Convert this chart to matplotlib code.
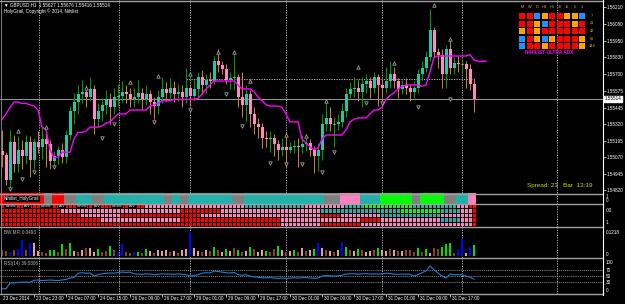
import numpy as np
import matplotlib.pyplot as plt
import matplotlib.transforms as mtransforms
from matplotlib.lines import Line2D
from matplotlib.patches import Rectangle

plt.rcParams['font.family'] = ['Liberation Sans', 'DejaVu Sans']

# ---------------- data ----------------
opens = [1.5512,1.5509,1.5490,1.5519,1.5502,1.5513,1.5508,1.5519,1.5505,1.5519,
         1.5515,1.5521,1.5517,1.5504,1.5508,1.5513,1.5507,1.5524,1.5542,1.5549,
         1.5555,1.5557,1.5553,1.5559,1.5536,1.5542,1.5547,1.5551,1.5545,1.5553,
         1.5554,1.5557,1.5555,1.5551,1.5553,1.5556,1.5551,1.5555,1.5549,1.5546,
         1.5553,1.5559,1.5556,1.5560,1.5555,1.5557,1.5553,1.5560,1.5554,1.5559,
         1.5568,1.5562,1.5566,1.5565,1.5580,1.5577,1.5574,1.5566,1.5567,1.5568,
         1.5553,1.5547,1.5555,1.5540,1.5532,1.5530,1.5522,1.5521,1.5522,1.5517,
         1.5513,1.5515,1.5513,1.5515,1.5516,1.5515,1.5517,1.5518,1.5513,1.5508,
         1.5513,1.5532,1.5537,1.5532,1.5532,1.5534,1.5542,1.5555,1.5559,1.5560,
         1.5557,1.5563,1.5565,1.5560,1.5568,1.5562,1.5560,1.5565,1.5570,1.5565,
         1.5559,1.5562,1.5560,1.5557,1.5560,1.5570,1.5575,1.5583,1.5604,1.5587,
         1.5585,1.5570,1.5589,1.5575,1.5579,1.5578,1.5578,1.5574,1.55627]
highs = [1.5528,1.5511,1.5528,1.5524,1.5523,1.5520,1.5524,1.5523,1.5522,1.5527,
         1.5530,1.5526,1.5520,1.5512,1.5516,1.5518,1.5528,1.5546,1.5556,1.5562,
         1.5566,1.5562,1.5568,1.5562,1.5548,1.5552,1.5558,1.5556,1.5560,1.5563,
         1.5565,1.5562,1.5560,1.5560,1.5566,1.5560,1.5562,1.5558,1.5553,1.5558,
         1.5568,1.5564,1.5567,1.5565,1.5563,1.5562,1.5575,1.5563,1.5566,1.5572,
         1.5573,1.5570,1.5572,1.5584,1.5589,1.5580,1.5578,1.5572,1.5586,1.5570,
         1.5572,1.5562,1.5558,1.5545,1.5537,1.5533,1.5527,1.5527,1.5525,1.5520,
         1.5522,1.5526,1.5519,1.5520,1.5522,1.5524,1.5525,1.5521,1.5516,1.5518,
         1.5540,1.5550,1.5545,1.5538,1.5540,1.5548,1.5560,1.5564,1.5568,1.5566,
         1.5568,1.5570,1.5568,1.5572,1.5570,1.5566,1.5576,1.5580,1.5576,1.5567,
         1.5566,1.5567,1.5563,1.5565,1.5574,1.5580,1.5588,1.5620,1.5606,1.5590,
         1.5589,1.5592,1.5596,1.5583,1.5584,1.5582,1.5580,1.5578,1.55676]
lows = [1.5500,1.5486,1.5483,1.5496,1.5496,1.5498,1.5502,1.5492,1.5498,1.5510,
        1.5506,1.5500,1.5498,1.5500,1.5502,1.5503,1.5503,1.5520,1.5532,1.5540,
        1.5548,1.5545,1.5550,1.5525,1.5530,1.5535,1.5540,1.5532,1.5540,1.5546,
        1.5549,1.5548,1.5545,1.5545,1.5548,1.5544,1.5547,1.5540,1.5536,1.5540,
        1.5548,1.5550,1.5550,1.5549,1.5550,1.5545,1.5548,1.5546,1.5550,1.5552,
        1.5555,1.5556,1.5560,1.5563,1.5572,1.5570,1.5563,1.5559,1.5558,1.5545,
        1.5538,1.5535,1.5530,1.5525,1.5522,1.5514,1.5515,1.5511,1.5508,1.5505,
        1.5508,1.5500,1.5510,1.5510,1.5500,1.5510,1.5512,1.5508,1.5495,1.5497,
        1.5505,1.5527,1.5527,1.5515,1.5528,1.5530,1.5538,1.5552,1.5553,1.5550,
        1.5545,1.5556,1.5552,1.5556,1.5546,1.5552,1.5556,1.5560,1.5560,1.5552,
        1.5555,1.5555,1.5550,1.5552,1.5556,1.5566,1.5572,1.5580,1.5583,1.5575,
        1.5560,1.5560,1.5570,1.5570,1.5572,1.5572,1.5560,1.5558,1.55416]
closes = [1.5509,1.5490,1.5519,1.5502,1.5513,1.5508,1.5519,1.5505,1.5519,1.5515,
          1.5521,1.5517,1.5504,1.5508,1.5513,1.5507,1.5524,1.5542,1.5549,1.5555,
          1.5557,1.5553,1.5559,1.5536,1.5542,1.5547,1.5551,1.5545,1.5553,1.5554,
          1.5557,1.5555,1.5551,1.5553,1.5556,1.5551,1.5555,1.5549,1.5546,1.5553,
          1.5559,1.5556,1.5560,1.5555,1.5557,1.5553,1.5560,1.5554,1.5559,1.5568,
          1.5562,1.5566,1.5565,1.5580,1.5577,1.5574,1.5566,1.5567,1.5568,1.5553,
          1.5547,1.5555,1.5540,1.5532,1.5530,1.5522,1.5521,1.5522,1.5517,1.5513,
          1.5515,1.5513,1.5515,1.5516,1.5515,1.5517,1.5518,1.5513,1.5508,1.5513,
          1.5532,1.5537,1.5532,1.5532,1.5534,1.5542,1.5555,1.5559,1.5560,1.5557,
          1.5563,1.5565,1.5560,1.5568,1.5562,1.5560,1.5565,1.5570,1.5565,1.5559,
          1.5562,1.5560,1.5557,1.5560,1.5570,1.5575,1.5583,1.5604,1.5587,1.5585,
          1.5570,1.5589,1.5575,1.5579,1.5578,1.5578,1.5574,1.5563,1.55514]

# magenta stepping line (runs 3 bars past the last candle)
ma_line = [1.5536,1.5540,1.5545,1.5549,1.5549,1.5548,1.5548,1.5547,1.5546,1.5543,
           1.5530,1.5528,1.5513,1.5507,1.5507,1.5511,1.5511,1.5511,1.5521,1.5526,
           1.5526,1.5527,1.5530,1.5530,1.5530,1.5531,1.5533,1.5534,1.5537,1.5540,
           1.5540,1.5540,1.5543,1.5543,1.5543,1.5543,1.5543,1.5546,1.5547,1.5548,
           1.5550,1.5550,1.5550,1.5551,1.5551,1.5551,1.5551,1.5551,1.5551,1.5552,
           1.5555,1.5559,1.5562,1.5565,1.5565,1.5565,1.5565,1.5565,1.5565,1.5562,
           1.5559,1.5559,1.5559,1.5557,1.5553,1.5550,1.5547,1.5546,1.5546,1.5546,
           1.5545,1.5540,1.5534,1.5534,1.5534,1.5521,1.5518,1.5515,1.5513,1.5514,
           1.5521,1.5524,1.5524,1.5524,1.5524,1.5524,1.5528,1.5534,1.5536,1.5537,
           1.5537,1.5537,1.5540,1.5543,1.5543,1.5545,1.5551,1.5554,1.5556,1.5559,
           1.5561,1.5562,1.5562,1.5562,1.5562,1.5561,1.5562,1.5572,1.5583,1.5584,
           1.5584,1.5584,1.5584,1.5584,1.5584,1.5584,1.5584,1.5585,1.5581,1.5580,
           1.5580,1.5580]

up_bars = [4, 11, 21, 32, 39, 47, 54, 58, 62, 71, 76, 81, 89, 98, 108, 112]
up_price = [1.5527, 1.5530, 1.5560, 1.5564, 1.5569, 1.5570, 1.5587, 1.5587, 1.5565,
            1.5524, 1.5523, 1.5550, 1.5576, 1.5579, 1.5623, 1.5597]
dn_bars = [2, 5, 8, 13, 25, 28, 38, 47, 56, 60, 67, 71, 75, 80, 83, 91, 95, 104, 112]
dn_price = [1.5483, 1.5491, 1.5496, 1.5500, 1.5522, 1.5532, 1.5534, 1.5543, 1.5555, 1.5531,
            1.5503, 1.5502, 1.5502, 1.5496, 1.5511, 1.5548, 1.5548, 1.5545, 1.5551]

hline_price = 1.55665
hline_from, hline_to = 46, 117.5
bid = 1.55514

price_ticks = ['1.56210', '1.56080', '1.55950', '1.55830', '1.55700', '1.55575',
               '1.55445', '1.55320', '1.55195', '1.55070', '1.54945', '1.54820']

# period separators (bar positions)
separators = [9.25, 29.25, 47, 71, 95, 115, 138.75]

time_ticks = [8, 16, 24, 32, 40, 48, 56, 64, 72, 80, 88, 96, 104, 112]
time_labels = ['23 Dec 23:00', '24 Dec 07:00', '24 Dec 15:00', '26 Dec 09:00', '26 Dec 17:00',
               '29 Dec 01:00', '29 Dec 09:00', '29 Dec 17:00', '30 Dec 01:00', '30 Dec 09:00',
               '30 Dec 17:00', '31 Dec 01:00', '31 Dec 09:00', '31 Dec 17:00']

# Nihilist_HolyGrail colour per bar: r red, k gray, t teal, g lime, p pink
hg_codes = ("rrrrrrrrrrr" "kk" "rrr" "kkk" "tttt" "kkk" "ttttttttttttttt" "kk" "tt" "kk"
            "ttttttttttt" "kkk" "tttttttttttttttttttt" "kkkk" "ppppp" "ttttt" "ggggg"
            "ggg" "kk" "gggggg" "kkk" "ttt" "pp")

# matrix panel, 5 rows
grid_rows = [
    "r" * 36 + "p" * 25 + "t" * 15 + "p" * 10 + "t" * 5 + "g" * 12 + "t" * 11 + "p" * 3 + "r" * 2,
    "r" * 15 + "p" * 30 + "r" * 10 + "p" * 25 + "t" * 20 + "g" * 10 + "t" * 5 + "p" * 3 + "r",
    "r" * 20 + "p" * 10 + "r" * 20 + "p" * 30 + "r" * 5 + "p" * 10 + "t" * 15 + "p" * 8 + "r",
    "r" * 25 + "p" * 20 + "r" * 25 + "p" * 20 + "r" * 5 + "p" * 15 + "t" * 5 + "p" * 3 + "r",
    "r" * 70 + "p" * 10 + "r" * 10 + "p" * 28 + "r",
]

mfi_vals = [0.030,0.025,0.020,0.030,0.036,0.081,0.030,0.066,0.066,0.025,
            0.020,0.015,0.030,0.030,0.020,0.061,0.036,0.066,0.025,0.020,
            0.030,0.041,0.041,0.020,0.036,0.020,0.025,0.051,0.030,0.020,
            0.061,0.020,0.015,0.020,0.020,0.015,0.036,0.025,0.015,0.030,
            0.025,0.030,0.020,0.025,0.015,0.030,0.036,0.1218,0.041,0.025,
            0.020,0.030,0.025,0.046,0.030,0.020,0.036,0.025,0.041,0.030,
            0.020,0.025,0.046,0.036,0.020,0.030,0.025,0.020,0.036,0.051,
            0.030,0.020,0.025,0.030,0.020,0.041,0.025,0.030,0.036,0.066,
            0.041,0.030,0.025,0.020,0.030,0.071,0.046,0.030,0.025,0.036,
            0.030,0.020,0.025,0.030,0.041,0.030,0.025,0.036,0.030,0.025,
            0.025,0.030,0.030,0.020,0.039,0.020,0.034,0.015,0.041,0.036,
            0.046,0.059,0.066,0.015,0.036,0.085,0.015,0.046,0.054]
mfi_codes = ("rrbrbbrbpp" "rrggrgrgpr" "prppgrrgrb" "brrbgrgprp" "pprprppbpp"
             "rprgrpgprg" "rpgrppgrrg" "prpgrprpgb" "prprpbgrpg" "rpprgpprpr"
             "prrrgrgprr" "gggrbbpbg")

rsi_vals = [5, 5, 25, 26, 28, 28, 29, 28, 35, 36,
            34, 35, 36, 35, 34, 36, 38, 43, 45, 60,
            62, 60, 61, 50, 55, 58, 60, 61, 60, 63,
            64, 63, 64, 58, 57, 56, 58, 57, 55, 56,
            58, 57, 57, 56, 58, 56, 55, 50, 52, 55,
            60, 62, 61, 68, 66, 64, 62, 61, 63, 55,
            53, 55, 50, 47, 46, 44, 44, 45, 43, 42,
            43, 42, 43, 44, 43, 44, 45, 43, 42, 43,
            50, 52, 51, 50, 51, 53, 57, 58, 58, 57,
            58, 59, 57, 58, 57, 58, 60, 59, 57, 56,
            57, 57, 56, 50, 55, 62, 68, 86, 72, 61,
            50, 43, 57, 55, 55, 54, 50, 46, 39]

adx_tf = ['M', 'W', 'D', 'H4', 'H1', '30', '15', '5', '1']
adx_periods = ['7', '21', '42', '89', '144']
adx_codes = ["rrborroob",
             "rrobrrror",
             "ororrrrrr",
             "broborrro",
             "brrorrrro"]

# ---------------- drawing ----------------
W, H = 625, 304
XR = 603
colors = {'r': '#ff0000', 'k': '#808080', 't': '#20b2aa', 'g': '#00ff00',
          'p': '#ff80c0', 'b': '#1e90ff', 'o': '#ffa500'}
mfi_colors = {'g': '#00e000', 'b': '#0000ff', 'r': '#8b4513', 'p': '#e0a0a8'}

fig = plt.figure(figsize=(6.25, 3.04), dpi=100, facecolor='black')


def rect(y0, y1):
    return [0, 1 - y1 / H, XR / W, (y1 - y0) / H]


def fpos(x, y):
    return x / W, 1 - y / H


def ftext(x, y, s, **kw):
    kw.setdefault('color', 'white')
    kw.setdefault('fontsize', 3.3)
    kw.setdefault('va', 'center')
    fig.text(*fpos(x, y), s, **kw)


xlim = (-0.5, 150.25)
ax = fig.add_axes(rect(0, 193))
ax_hg = fig.add_axes(rect(193, 204))
ax_gr = fig.add_axes(rect(204, 227))
ax_mfi = fig.add_axes(rect(227, 258))
ax_rsi = fig.add_axes(rect(258, 294))
for a in (ax, ax_hg, ax_gr, ax_mfi, ax_rsi):
    a.set_facecolor('black')
    a.set_xlim(*xlim)
    a.set_xticks([])
    a.set_yticks([])
    for s in a.spines.values():
        s.set_visible(False)
    for sx in separators:
        a.axvline(sx, color='#c8c8c8', lw=0.6, ls=(0, (1.5, 1.5)), zorder=1)

# main price panel
ax.set_ylim(1.54800, 1.56265)
idx = np.arange(len(closes))
o, h, l, c = (np.array(v) for v in (opens, highs, lows, closes))
bull = c >= o
ax.vlines(idx[bull], l[bull], h[bull], color='#00a000', lw=0.7, zorder=3)
ax.vlines(idx[~bull], l[~bull], h[~bull], color='#cd853f', lw=0.7, zorder=3)
ax.bar(idx[bull], (c - o)[bull], bottom=o[bull], width=0.75, color='#20c8a8', lw=0, zorder=4)
ax.bar(idx[~bull], (c - o)[~bull], bottom=o[~bull], width=0.75, color='#ff88c8', lw=0, zorder=4)
doji = np.abs(c - o) < 0.00003
ax.hlines(c[doji], idx[doji] - 0.35, idx[doji] + 0.35, color='#ffa040', lw=0.8, zorder=4)

ax.plot(np.arange(len(ma_line)), ma_line, color='#ff00ff', lw=1.0, zorder=5)
ax.scatter(up_bars, up_price, marker='^', s=6, facecolor='black', edgecolor='#a0a0a0', lw=0.6, zorder=6)
ax.scatter(dn_bars, dn_price, marker='v', s=6, facecolor='black', edgecolor='#a0a0a0', lw=0.6, zorder=6)
ax.hlines(hline_price, hline_from, hline_to, color='#d0d0d0', lw=0.6, ls=(0, (1.5, 1.5)), zorder=2)
ax.axhline(bid, color='#909090', lw=0.8, zorder=2)

ax.yaxis.tick_right()
ax.set_yticks([float(t) for t in price_ticks])
ax.set_yticklabels(price_ticks)
ax.tick_params(axis='y', length=2, width=0.5, color='white', labelcolor='white', labelsize=3.3, pad=1)
trans = mtransforms.blended_transform_factory(ax.transAxes, ax.transData)
ax.text(1.003, bid, '1.55514', transform=trans, fontsize=3.3, color='black', va='center',
        bbox=dict(facecolor='white', edgecolor='white', pad=0.6), zorder=10)

# HolyGrail panel
ax_hg.set_ylim(0, 1)
ax_hg.bar(idx, 0.92, bottom=0.04, width=0.78, color=[colors[k] for k in hg_codes], lw=0, zorder=2)
ax_hg.text(0.006, 0.5, 'Nihilist_HolyGrail', transform=ax_hg.transAxes, fontsize=3.3, color='white',
           va='center', bbox=dict(facecolor='black', edgecolor='red', lw=0.6, pad=0.8), zorder=5)

# matrix panel
ax_gr.set_ylim(-0.05, 5.05)
for r, row in enumerate(grid_rows):
    ax_gr.bar(idx, 0.8, bottom=4 - r + 0.1, width=0.75, color=[colors[k] for k in row], lw=0, zorder=2)
for k, lab in enumerate(['NihVol', 'ATV', 'NihVol', 'ATV', 'NihVol', 'ATV', 'NihVol', 'ATV']):
    ax_gr.text(1 + k * 4.4, 4.5, lab, fontsize=2.6, color='white', va='center',
               bbox=dict(facecolor='black', edgecolor='none', pad=0.4), zorder=5)

# BW MFI panel
ax_mfi.set_ylim(-0.0102, 0.1472)
ax_mfi.bar(idx, mfi_vals, width=0.5, color=[mfi_colors[k] for k in mfi_codes], lw=0, zorder=2)

# RSI panel
ax_rsi.set_ylim(-13.5, 114)
for lv in (70, 50, 30):
    ax_rsi.axhline(lv, color='#c0c0c0', lw=0.5, ls=(0, (1.5, 1.5)), zorder=1)
ax_rsi.plot(idx, rsi_vals, color='#1e7fd0', lw=0.8, zorder=3)

# time axis
tr = mtransforms.blended_transform_factory(ax_rsi.transData, ax_rsi.transAxes)
ax_rsi.vlines(time_ticks, -3 / 36, 0, transform=tr, color='white', lw=0.5, clip_on=False)
for t, lab in zip(time_ticks, time_labels):
    ax_rsi.text(t + 0.5, -5 / 36, lab, transform=tr, fontsize=3.3, color='white', va='center')
ftext(3, 299, '23 Dec 2014')

# frame lines
for yy in (0.5, 193.5, 204.3, 227.3, 258.3, 294.3):
    fig.add_artist(Line2D([0, XR / W], [1 - yy / H] * 2, color='#a0a0a0', lw=1.0))
fig.add_artist(Line2D([XR / W] * 2, [1 - 294.5 / H, 1], color='white', lw=0.8))
fig.add_artist(Line2D([1 / W] * 2, [1 - 294 / H, 1], color='#909090', lw=0.6))

# texts
ftext(4, 5, '\u25bc GBPUSD,H1  1.55627 1.55676 1.55416 1.55514')
ftext(4, 11, 'HolyGrail, Copyright \u00a9 2014, Nihilist')
ftext(527, 186, 'Spread: 23   Bar  13:19', color='#d8d800', fontsize=4.6)
ftext(4, 232, 'BW MFI 0.0493', color='#c0c0c0')
ftext(4, 263, 'RSI(14) 39.0306', color='#c0c0c0')

# sub-window scale labels
for yy, s in [(197, '1'), (201, '0'), (210, '.00'), (223, '1'), (232, '0.1218'), (254, '0'),
              (262, '100'), (271, '70'), (276, '50'), (282, '30'), (290, '0')]:
    ftext(606, yy, s)

# ultra ADX table
for j, tf in enumerate(adx_tf):
    ftext(522 + 7.5 * j, 7, tf, color='#e0b020', fontsize=2.8, ha='center')
for r, row in enumerate(adx_codes):
    for j, k in enumerate(row):
        x0, y0 = fpos(519 + 7.5 * j, 19 + 7.5 * r)
        fig.add_artist(Rectangle((x0, y0), 6 / W, 6 / H, facecolor=colors[k], edgecolor='none'))
    ftext(592, 16 + 7.5 * r, adx_periods[r], color='#e0b020', fontsize=2.8, ha='center')
ftext(549, 53, 'NIHILIST ULTRA ADX', color='#ff00ff', fontsize=3.4, ha='center', fontweight='bold')

fig.savefig('out.png', dpi=100, facecolor='black')
